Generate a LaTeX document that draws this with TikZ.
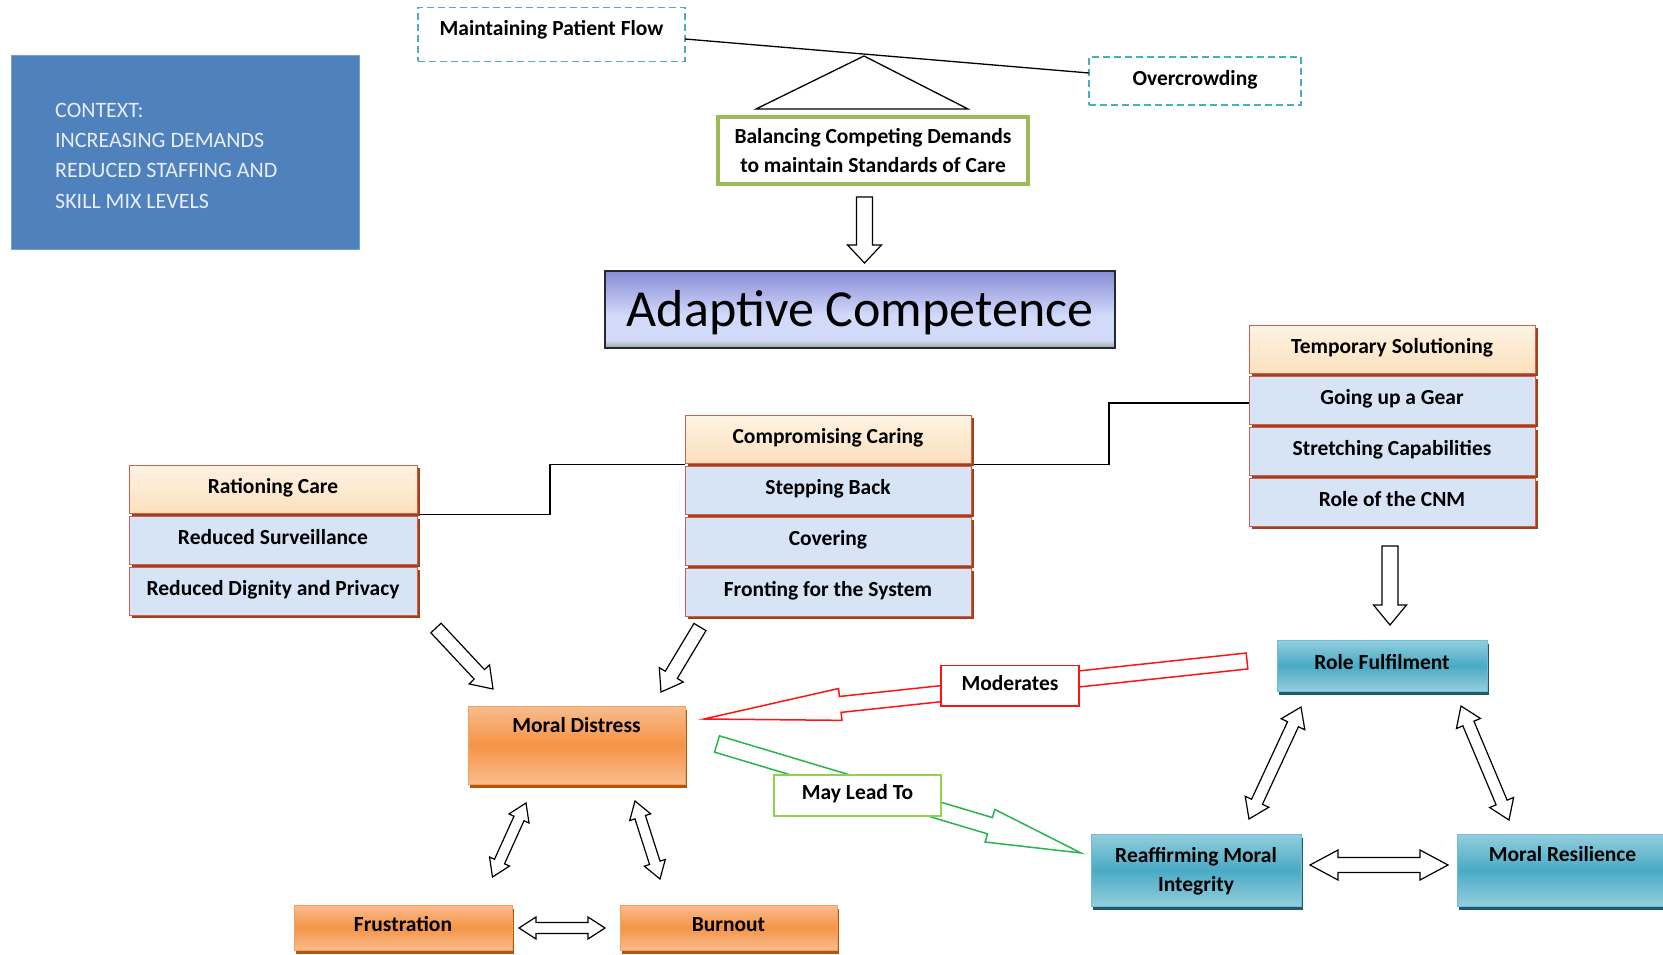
\documentclass[tikz,border=0pt]{standalone}
\usepackage{fontspec}
\setmainfont{Carlito}
\usetikzlibrary{calc,shadows}

\definecolor{ctxblue}{RGB}{79,129,189}
\definecolor{ctxedge}{RGB}{120,160,210}
\definecolor{ctxtext}{RGB}{232,238,248}
\definecolor{dashblue}{RGB}{75,172,198}
\definecolor{balgreen}{RGB}{155,187,89}
\definecolor{acTop}{RGB}{136,140,214}
\definecolor{acMid}{RGB}{210,218,250}
\definecolor{acBot}{RGB}{150,168,150}
\definecolor{acEdge}{RGB}{40,40,50}
\definecolor{creamTop}{RGB}{254,243,226}
\definecolor{creamBot}{RGB}{251,224,190}
\definecolor{rowblue}{RGB}{214,228,245}
\definecolor{rowedge}{RGB}{205,95,85}
\definecolor{rowshadow}{RGB}{160,66,22}
\definecolor{orLight}{RGB}{249,188,142}
\definecolor{orMid}{RGB}{245,148,70}
\definecolor{orEdge}{RGB}{246,160,96}
\definecolor{orShadow}{RGB}{180,86,10}
\definecolor{tlLight}{RGB}{148,206,222}
\definecolor{tlMid}{RGB}{74,170,197}
\definecolor{tlEdge}{RGB}{110,190,212}
\definecolor{tlShadow}{RGB}{33,89,104}
\definecolor{modred}{RGB}{255,20,20}
\definecolor{leadgreen}{RGB}{40,180,80}
\definecolor{leadbox}{RGB}{146,208,80}

% purple-to-lavender fill of the central heading box (path spans 25bp..75bp)
\pgfdeclareverticalshading{acshade}{100bp}{color(0bp)=(acBot); color(25bp)=(acBot);
  color(30bp)=(acMid); color(46bp)=(acMid); color(75bp)=(acTop); color(100bp)=(acTop)}

\tikzset{
  base/.style={anchor=north west, inner sep=0pt, outer sep=0pt},
  lbl/.style={font=\fontsize{21.5}{26}\selectfont\bfseries, text height=14pt, text depth=5.5pt, inner sep=0pt},
  ctxbox/.style={base, fill=ctxblue, draw=ctxedge, line width=1pt},
  ctxtxt/.style={anchor=west, inner sep=0pt, text=ctxtext, font=\fontsize{22}{26}\selectfont,
    text height=14pt, text depth=0pt},
  dashbox/.style={base, draw=dashblue, line width=1.5pt, dash pattern=on 7pt off 4pt, fill=white},
  balbox/.style={base, draw=balgreen, line width=4pt, fill=white, align=center,
    font=\fontsize{21.5}{28.5}\selectfont\bfseries},
  acbox/.style={base, draw=acEdge, line width=1.6pt, shading=acshade},
  rowshade/.style={general shadow={fill=rowshadow, shadow xshift=3pt, shadow yshift=-3pt}},
  rowhead/.style={base, lbl, rowshade, draw=rowedge, line width=0.8pt,
    top color=creamTop, bottom color=creamBot},
  rowbody/.style={base, lbl, rowshade, draw=rowedge, line width=0.8pt, fill=rowblue},
  orbox/.style={base, draw=orEdge, line width=1pt, top color=orLight, bottom color=orLight,
    middle color=orMid, general shadow={fill=orShadow, shadow xshift=2pt, shadow yshift=-3.5pt}},
  tlbox/.style={base, draw=tlEdge, line width=1pt, top color=tlLight, bottom color=tlLight,
    middle color=tlMid, general shadow={fill=tlShadow, shadow xshift=2pt, shadow yshift=-3.5pt}},
  tagbox/.style={base, lbl, fill=white, line width=1.6pt},
  conn/.style={line width=1.3pt, draw=black},
  harrowline/.style={line width=1.2pt, draw=black, fill=white, line join=miter},
}

% hollow block arrow: [options]{from}{to}{half shaft}{half head}{head length}
\newcommand\blockarrow[6][]{%
  \draw[harrowline,#1] let \p1=(#2), \p2=(#3),
      \n1={atan2(\y2-\y1,\x2-\x1)}, \n2={veclen(\x2-\x1,\y2-\y1)} in
    ($(\p1)+(\n1+90:#4)$) -- ($(\p1)+(\n1:\n2-#6)+(\n1+90:#4)$)
    -- ($(\p1)+(\n1:\n2-#6)+(\n1+90:#5)$) -- (\p2)
    -- ($(\p1)+(\n1:\n2-#6)+(\n1-90:#5)$) -- ($(\p1)+(\n1:\n2-#6)+(\n1-90:#4)$)
    -- ($(\p1)+(\n1-90:#4)$) -- cycle;}

% hollow two-headed block arrow: [options]{end}{end}{half shaft}{half head}{head length}
\newcommand\blockdarrow[6][]{%
  \draw[harrowline,#1] let \p1=(#2), \p2=(#3),
      \n1={atan2(\y2-\y1,\x2-\x1)}, \n2={veclen(\x2-\x1,\y2-\y1)} in
    (\p1) -- ($(\p1)+(\n1:#6)+(\n1+90:#5)$) -- ($(\p1)+(\n1:#6)+(\n1+90:#4)$)
    -- ($(\p1)+(\n1:\n2-#6)+(\n1+90:#4)$) -- ($(\p1)+(\n1:\n2-#6)+(\n1+90:#5)$)
    -- (\p2)
    -- ($(\p1)+(\n1:\n2-#6)+(\n1-90:#5)$) -- ($(\p1)+(\n1:\n2-#6)+(\n1-90:#4)$)
    -- ($(\p1)+(\n1:#6)+(\n1-90:#4)$) -- ($(\p1)+(\n1:#6)+(\n1-90:#5)$) -- cycle;}

\begin{document}
\begin{tikzpicture}[x=1pt,y=-1pt]
\useasboundingbox (0,0) rectangle (1663,955);
\clip (0,0) rectangle (1663,955);
\fill[white] (0,0) rectangle (1663,955);

% context panel
\node[ctxbox, minimum width=348pt, minimum height=193pt] (ctx) at (11,56) {};
\node[ctxtxt] (ctx1) at (55,111) {CONTEXT:};
\node[ctxtxt] (ctx2) at (55,141) {INCREASING DEMANDS};
\node[ctxtxt] (ctx3) at (55,171) {REDUCED STAFFING AND};
\node[ctxtxt] (ctx4) at (55,201) {SKILL MIX LEVELS};

% the balance: two pressures on a beam over a fulcrum
\node[dashbox, minimum width=267pt, minimum height=54pt] (mpf) at (418,7.5) {};
\node[lbl] (mpft) at ($(mpf.north)+(0,24)$) {Maintaining Patient Flow};
\node[dashbox, lbl, minimum width=212pt, minimum height=48pt] (ovc) at (1089,57) {Overcrowding};
\draw[conn] ($(mpf.east)+(0,4.5)$) coordinate (beamL) -- ($(ovc.west)+(0,-8)$) coordinate (beamR);
\draw[conn] (756,109) -- (864,56) -- (968,109) -- cycle;

\node[balbox, minimum width=310pt, minimum height=67pt] (bcd) at (718,117)
  {Balancing Competing Demands\\to maintain Standards of Care};

\node[acbox, minimum width=510pt, minimum height=77pt] (ac) at (605,271) {};
\node[inner sep=0pt, font=\fontsize{52}{60}\selectfont] (act) at ($(ac.center)+(0,3)$) {Adaptive Competence};

% three strategy stacks
\node[rowhead, minimum width=286pt, minimum height=48pt] (ts1) at (1249,325) {Temporary Solutioning};
\node[rowbody, minimum width=286pt, minimum height=48pt] (ts2) at (1249,376) {Going up a Gear};
\node[rowbody, minimum width=286pt, minimum height=48pt] (ts3) at (1249,427) {Stretching Capabilities};
\node[rowbody, minimum width=286pt, minimum height=48pt] (ts4) at (1249,478) {Role of the CNM};

\node[rowhead, minimum width=286pt, minimum height=48pt] (cc1) at (685,415) {Compromising Caring};
\node[rowbody, minimum width=286pt, minimum height=48pt] (cc2) at (685,466) {Stepping Back};
\node[rowbody, minimum width=286pt, minimum height=48pt] (cc3) at (685,517) {Covering};
\node[rowbody, minimum width=286pt, minimum height=48pt] (cc4) at (685,568) {Fronting for the System};

\node[rowhead, minimum width=288pt, minimum height=48pt] (rc1) at (129,465) {Rationing Care};
\node[rowbody, minimum width=288pt, minimum height=48pt] (rc2) at (129,516) {Reduced Surveillance};
\node[rowbody, minimum width=288pt, minimum height=48pt] (rc3) at (129,567) {Reduced Dignity and Privacy};

\draw[conn] ($(rc1.south east)+(3,1.5)$) -- ++(130,0) |- ($(cc1.south west)+(0,1.5)$);
\draw[conn] ($(cc1.south east)+(3,1.5)$) -- ++(135,0) |- ($(ts2.west)+(0,3)$);

% outcomes
\node[orbox, minimum width=217pt, minimum height=78pt] (md) at (468,706) {};
\node[lbl] (mdt) at ($(md.north)+(0,22)$) {Moral Distress};
\node[orbox, lbl, minimum width=218pt, minimum height=45pt] (fr) at (294,905) {Frustration};
\node[orbox, lbl, minimum width=217pt, minimum height=45pt] (bo) at (620,905) {Burnout};

\node[tlbox, lbl, minimum width=210pt, minimum height=51pt] (rf) at (1277,640) {Role Fulfilment};
\node[tlbox, minimum width=210pt, minimum height=72pt] (rmi) at (1091,834) {};
\node[align=center, inner sep=0pt, font=\fontsize{21.5}{29}\selectfont\bfseries] (rmit)
  at ($(rmi.north)+(0,37.5)$) {Reaffirming Moral\\Integrity};
\node[tlbox, minimum width=211pt, minimum height=72pt] (mr) at (1457,834) {};
\node[lbl] (mrt) at ($(mr.north)+(0,23)$) {Moral Resilience};

% arrow end points
\coordinate (bcdOut) at (864.5,197);
\coordinate (acIn) at (864.5,263);
\coordinate (tsOut) at (1390,546);
\coordinate (rfIn) at (1390,625);
\coordinate (rcOut) at (436,628);
\coordinate (mdInL) at (493,689);
\coordinate (ccOut) at (700,627);
\coordinate (mdInR) at (661,692);
\coordinate (mdFr) at (526,803);
\coordinate (frMd) at (492.5,877);
\coordinate (mdBo) at (635,801);
\coordinate (boMd) at (660,879);
\coordinate (frBo) at (519,928);
\coordinate (boFr) at (605,928);
\coordinate (rfRmi) at (1301,707);
\coordinate (rmiRf) at (1249,819);
\coordinate (rfMr) at (1461,706);
\coordinate (mrRf) at (1509,820);
\coordinate (rmiMr) at (1310,865);
\coordinate (mrRmi) at (1448,865);
\coordinate (rfOut) at (1247,661);
\coordinate (mdInM) at (704,719);
\coordinate (mdOut) at (717,744);
\coordinate (rmiIn) at (1081,853);

\blockarrow{bcdOut}{acIn}{8pt}{17pt}{18pt}
\blockarrow{tsOut}{rfIn}{8pt}{16.5pt}{20pt}
\blockarrow{rcOut}{mdInL}{7pt}{14pt}{20pt}
\blockarrow{ccOut}{mdInR}{7pt}{14pt}{20pt}
\blockdarrow{mdFr}{frMd}{5.5pt}{11pt}{17pt}
\blockdarrow{mdBo}{boMd}{5.5pt}{11pt}{17pt}
\blockdarrow{frBo}{boFr}{5.5pt}{11pt}{17pt}
\blockdarrow{rfRmi}{rmiRf}{6pt}{13pt}{19pt}
\blockdarrow{rfMr}{mrRf}{6pt}{13pt}{19pt}
\blockdarrow{rmiMr}{mrRmi}{7.5pt}{15pt}{28pt}

\blockarrow[draw=modred, line width=1.5pt]{rfOut}{mdInM}{8pt}{16pt}{137pt}
\blockarrow[draw=leadgreen, line width=1.5pt]{mdOut}{rmiIn}{8.5pt}{17pt}{95pt}

\node[tagbox, draw=modred, minimum width=138pt, minimum height=40.5pt] (mod) at (941,665.5) {Moderates};
\node[tagbox, draw=leadbox, minimum width=167pt, minimum height=41pt] (mlt) at (774,775) {May Lead To};
\end{tikzpicture}
\end{document}
